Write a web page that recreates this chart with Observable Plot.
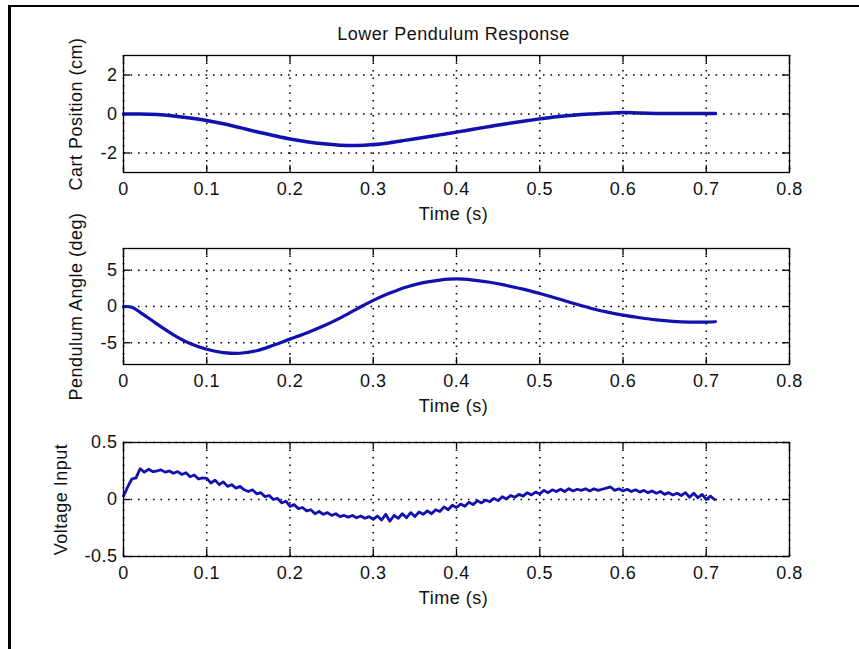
<!DOCTYPE html>
<html><head><meta charset="utf-8">
<script src="https://cdn.jsdelivr.net/npm/d3@7"></script>
<script src="https://cdn.jsdelivr.net/npm/@observablehq/plot@0.6"></script>
<style>
html,body{margin:0;padding:0;background:#fff;}
#chart{position:relative;width:859px;height:649px;overflow:hidden;background:#fff;}
#chart svg{position:absolute;left:0;}
#border{position:absolute;left:8px;top:5px;width:900px;height:700px;border-left:3px solid #000;border-top:2px solid #000;}
</style></head><body><div id="chart"><div id="border"></div></div>
<script>
const title = "Lower Pendulum Response";
const xLabel = "Time (s)";
const xTicks = [0, 0.1, 0.2, 0.3, 0.4, 0.5, 0.6, 0.7, 0.8];

const cartLabel = "Cart Position (cm)";
const cartTicks = [-2, 0, 2];
const cartTime = [0,0.02,0.04,0.06,0.08,0.10,0.12,0.14,0.16,0.18,0.20,0.22,0.24,0.26,0.28,0.30,0.32,0.34,0.36,0.38,0.40,0.42,0.44,0.46,0.48,0.50,0.52,0.54,0.56,0.58,0.60,0.62,0.64,0.66,0.68,0.70,0.711];
const cartPos = [0,0,-0.03,-0.1,-0.2,-0.33,-0.5,-0.7,-0.91,-1.1,-1.28,-1.42,-1.53,-1.6,-1.62,-1.57,-1.47,-1.34,-1.21,-1.07,-0.93,-0.78,-0.64,-0.5,-0.37,-0.25,-0.14,-0.06,0.0,0.04,0.08,0.05,0.03,0.02,0.02,0.02,0.02];

const angleLabel = "Pendulum Angle (deg)";
const angleTicks = [-5, 0, 5];
const angleTime = [0,0.01,0.02,0.04,0.06,0.08,0.10,0.12,0.14,0.16,0.18,0.20,0.22,0.24,0.26,0.28,0.30,0.32,0.34,0.36,0.38,0.40,0.42,0.44,0.46,0.48,0.50,0.52,0.54,0.56,0.58,0.60,0.62,0.64,0.66,0.68,0.70,0.711];
const angleDeg = [0,-0.1,-0.8,-2.4,-3.9,-5.1,-5.9,-6.35,-6.45,-6.1,-5.35,-4.5,-3.65,-2.7,-1.6,-0.35,0.85,1.85,2.7,3.3,3.65,3.8,3.65,3.35,2.9,2.4,1.8,1.15,0.45,-0.2,-0.75,-1.2,-1.55,-1.85,-2.05,-2.15,-2.15,-2.1];

const voltLabel = "Voltage Input";
const voltTicks = [-0.5, 0, 0.5];
const voltTime = [0,0.005,0.01,0.015,0.02,0.025,0.03,0.035,0.04,0.045,0.05,0.055,0.06,0.065,0.07,0.075,0.08,0.085,0.09,0.095,0.1,0.105,0.11,0.115,0.12,0.125,0.13,0.135,0.14,0.145,0.15,0.155,0.16,0.165,0.17,0.175,0.18,0.185,0.19,0.195,0.2,0.205,0.21,0.215,0.22,0.225,0.23,0.235,0.24,0.245,0.25,0.255,0.26,0.265,0.27,0.275,0.28,0.285,0.29,0.295,0.3,0.305,0.31,0.315,0.32,0.325,0.33,0.335,0.34,0.345,0.35,0.355,0.36,0.365,0.37,0.375,0.38,0.385,0.39,0.395,0.4,0.405,0.41,0.415,0.42,0.425,0.43,0.435,0.44,0.445,0.45,0.455,0.46,0.465,0.47,0.475,0.48,0.485,0.49,0.495,0.5,0.505,0.51,0.515,0.52,0.525,0.53,0.535,0.54,0.545,0.55,0.555,0.56,0.565,0.57,0.575,0.58,0.585,0.59,0.595,0.6,0.605,0.61,0.615,0.62,0.625,0.63,0.635,0.64,0.645,0.65,0.655,0.66,0.665,0.67,0.675,0.68,0.685,0.69,0.695,0.7,0.705,0.71];
const voltIn = [0.03,0.11,0.18,0.19,0.27,0.24,0.265,0.245,0.25,0.26,0.24,0.25,0.23,0.245,0.22,0.235,0.2,0.215,0.18,0.19,0.185,0.145,0.17,0.13,0.155,0.115,0.13,0.1,0.115,0.085,0.07,0.085,0.05,0.06,0.025,0.035,0.0,0.01,-0.03,-0.015,-0.06,-0.045,-0.08,-0.07,-0.1,-0.09,-0.125,-0.105,-0.13,-0.115,-0.14,-0.125,-0.15,-0.14,-0.155,-0.14,-0.16,-0.145,-0.165,-0.15,-0.175,-0.145,-0.18,-0.13,-0.19,-0.14,-0.165,-0.125,-0.16,-0.115,-0.15,-0.11,-0.13,-0.1,-0.125,-0.09,-0.105,-0.065,-0.09,-0.05,-0.07,-0.04,-0.06,-0.025,-0.045,-0.01,-0.03,-0.005,-0.02,0.01,-0.01,0.025,0.005,0.035,0.02,0.045,0.03,0.06,0.04,0.065,0.05,0.08,0.06,0.085,0.07,0.09,0.07,0.095,0.075,0.09,0.08,0.095,0.075,0.095,0.08,0.09,0.1,0.11,0.08,0.095,0.075,0.09,0.07,0.085,0.065,0.08,0.06,0.075,0.055,0.07,0.045,0.06,0.04,0.055,0.035,0.06,0.02,0.055,0.015,0.045,0.0,0.03,0.0];

const fmt = d => String(+d.toFixed(2));
const lineColor = "#1111b0";
const W = 859, ML = 123, MR = 70, TICK = 7;

function panel(o) {
  const data = o.time.map((t, i) => ({t, v: o.values[i]}));
  const innerW = W - ML - MR;
  const grid = {stroke: "#000", strokeWidth: 1.6, strokeDasharray: "1.6,5.9"};
  const tk = {stroke: "#000", strokeWidth: 1.3};
  const marks = [
    Plot.ruleX(xTicks, {x: d => d, ...grid}),
    Plot.ruleY(o.yTicks, {y: d => d, ...grid}),
    Plot.tickX(xTicks, {x: d => d, insetTop: o.ih - TICK, ...tk}),
    Plot.tickX(xTicks, {x: d => d, insetBottom: o.ih - TICK, ...tk}),
    Plot.tickY(o.yTicks, {y: d => d, insetRight: innerW - TICK, ...tk}),
    Plot.tickY(o.yTicks, {y: d => d, insetLeft: innerW - TICK, ...tk}),
    Plot.line(data, {x: "t", y: "v", stroke: lineColor, strokeWidth: o.sw, curve: o.curve}),
    Plot.frame({stroke: "#000", strokeWidth: 1.3}),
    Plot.axisX({ticks: xTicks, tickFormat: fmt, tickSize: 0, tickPadding: 10, label: null}),
    Plot.axisY({ticks: o.yTicks, tickFormat: fmt, tickSize: 0, tickPadding: 6, label: null}),
    Plot.text([xLabel], {frameAnchor: "bottom", dy: 42, dx: -3, lineAnchor: "middle", textAnchor: "middle", text: d => d}),
    Plot.text([o.ylabel], {frameAnchor: "left", dx: o.ylDx, rotate: -90, lineAnchor: "middle", textAnchor: "middle", text: d => d})
  ];
  if (o.title) marks.push(Plot.text([o.title], {frameAnchor: "top", dy: -21, dx: -3, lineAnchor: "middle", textAnchor: "middle", text: d => d}));
  const svg = Plot.plot({
    width: W,
    height: o.mt + o.ih + o.mb,
    marginLeft: ML, marginRight: MR, marginTop: o.mt, marginBottom: o.mb,
    x: {domain: [0, 0.8]},
    y: {domain: o.yDomain},
    style: {fontFamily: "'Liberation Sans', Arial, sans-serif", fontSize: "18px", color: "#111", background: "transparent", overflow: "visible", letterSpacing: "0.5px"},
    marks
  });
  svg.style.top = o.top + "px";
  document.getElementById("chart").appendChild(svg);
}

panel({time: cartTime, values: cartPos, yDomain: [-3, 3], yTicks: cartTicks, ylabel: cartLabel, ylDx: -47, top: 0, mt: 55, ih: 117, mb: 50, sw: 3.5, curve: "catmull-rom", title});
panel({time: angleTime, values: angleDeg, yDomain: [-8, 8], yTicks: angleTicks, ylabel: angleLabel, ylDx: -47, top: 222, mt: 26, ih: 116, mb: 50, sw: 3.2, curve: "catmull-rom"});
panel({time: voltTime, values: voltIn, yDomain: [-0.5, 0.5], yTicks: voltTicks, ylabel: voltLabel, ylDx: -62, top: 414, mt: 28, ih: 114, mb: 93, sw: 2.8, curve: "linear"});
</script></body></html>
